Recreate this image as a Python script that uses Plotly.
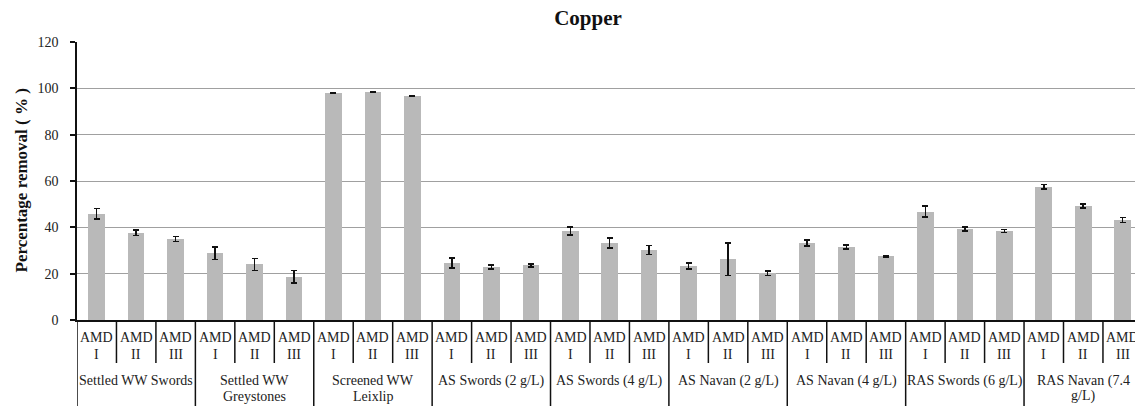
import plotly.graph_objects as go

# ---- data ----
group_labels = [
    ["Settled WW Swords"],
    ["Settled WW", "Greystones"],
    ["Screened WW", "Leixlip"],
    ["AS Swords (2 g/L)"],
    ["AS Swords (4 g/L)"],
    ["AS Navan (2 g/L)"],
    ["AS Navan (4 g/L)"],
    ["RAS Swords (6 g/L)"],
    ["RAS Navan (7.4", "g/L)"],
]
sub_labels = [["AMD", "I"], ["AMD", "II"], ["AMD", "III"]]

removal = [45.8, 37.6, 35.0,
           28.9, 24.0, 18.6,
           98.0, 98.4, 96.8,
           24.6, 22.9, 23.6,
           38.4, 33.3, 30.2,
           23.3, 26.3, 20.2,
           33.3, 31.5, 27.6,
           46.8, 39.2, 38.4,
           57.5, 49.2, 43.2]
error = [2.3, 1.2, 1.15,
         2.7, 2.65, 2.7,
         0.2, 0.3, 0.2,
         2.2, 0.85, 0.65,
         1.65, 2.2, 1.95,
         1.35, 7.0, 1.0,
         1.3, 0.85, 0.3,
         2.4, 0.85, 0.65,
         0.95, 0.95, 1.15]

y_ticks = [0, 20, 40, 60, 80, 100, 120]

FONT = "Liberation Serif"
W, H = 1135, 406
ML, MT, MB = 77, 42, 86
plot_h = H - MT - MB
n = len(removal)
n_sub = len(sub_labels)
x = list(range(n))


def py(p):
    """pixel row -> paper y"""
    return (H - MB - p) / plot_h


fig = go.Figure()
fig.add_trace(go.Bar(
    x=x, y=removal, width=0.42,
    marker=dict(color="#b9b9b9", line=dict(width=0)),
    error_y=dict(type="data", array=error, visible=True,
                 color="#111111", thickness=1.5, width=3),
    showlegend=False,
))

annotations = []
shapes = []
# subcategory labels and dividers
for i in range(n):
    lines = sub_labels[i % n_sub]
    annotations.append(dict(x=i, y=py(337.5), xref="x", yref="paper", text=lines[0],
                            showarrow=False, xanchor="center", yanchor="middle",
                            font=dict(family=FONT, size=14, color="#222")))
    annotations.append(dict(x=i, y=py(354), xref="x", yref="paper", text=lines[1],
                            showarrow=False, xanchor="center", yanchor="middle",
                            font=dict(family=FONT, size=14, color="#222")))
for i in range(n + 1):
    bottom = py(406) if i % n_sub == 0 else py(363)
    shapes.append(dict(type="line", xref="x", yref="paper",
                       x0=i - 0.5, x1=i - 0.5, y0=0, y1=bottom,
                       line=dict(color="#111111", width=1.5)))
# group labels
for g, lines in enumerate(group_labels):
    cx = g * n_sub + (n_sub - 1) / 2
    for k, t in enumerate(lines):
        annotations.append(dict(x=cx, y=py(380.5 + 15.5 * k), xref="x", yref="paper", text=t,
                                showarrow=False, xanchor="center", yanchor="middle",
                                font=dict(family=FONT, size=14, color="#222")))
# y-axis title
annotations.append(dict(x=(20.5 - ML) / (W - ML), y=py(181), xref="paper", yref="paper",
                        text="<b>Percentage removal ( % )</b>", textangle=-90,
                        showarrow=False, xanchor="center", yanchor="middle",
                        font=dict(family=FONT, size=17, color="#111")))

fig.update_layout(
    width=W, height=H,
    margin=dict(l=ML, r=0, t=MT, b=MB, pad=0),
    paper_bgcolor="white", plot_bgcolor="white",
    title=dict(text="<b>Copper</b>", x=588 / W, y=1 - 18 / H,
               xref="container", yref="container",
               xanchor="center", yanchor="middle",
               font=dict(family=FONT, size=21, color="#111")),
    bargap=0,
    xaxis=dict(range=[-0.5, -0.5 + (W - ML) / 39.46], showticklabels=False,
               showgrid=False, zeroline=False, ticks="",
               showline=True, linecolor="#111111", linewidth=1.5, fixedrange=True),
    yaxis=dict(range=[0, 120], tickvals=y_ticks, ticks="outside", ticklen=5,
               tickwidth=1.5, tickcolor="#111111",
               showline=True, linecolor="#111111", linewidth=1.5,
               showgrid=True, gridcolor="#a0a0a0", gridwidth=1,
               zeroline=False,
               tickfont=dict(family=FONT, size=14, color="#222"),
               ticklabelstandoff=9),
    annotations=annotations,
    shapes=shapes,
)

fig.write_html("out.html")
